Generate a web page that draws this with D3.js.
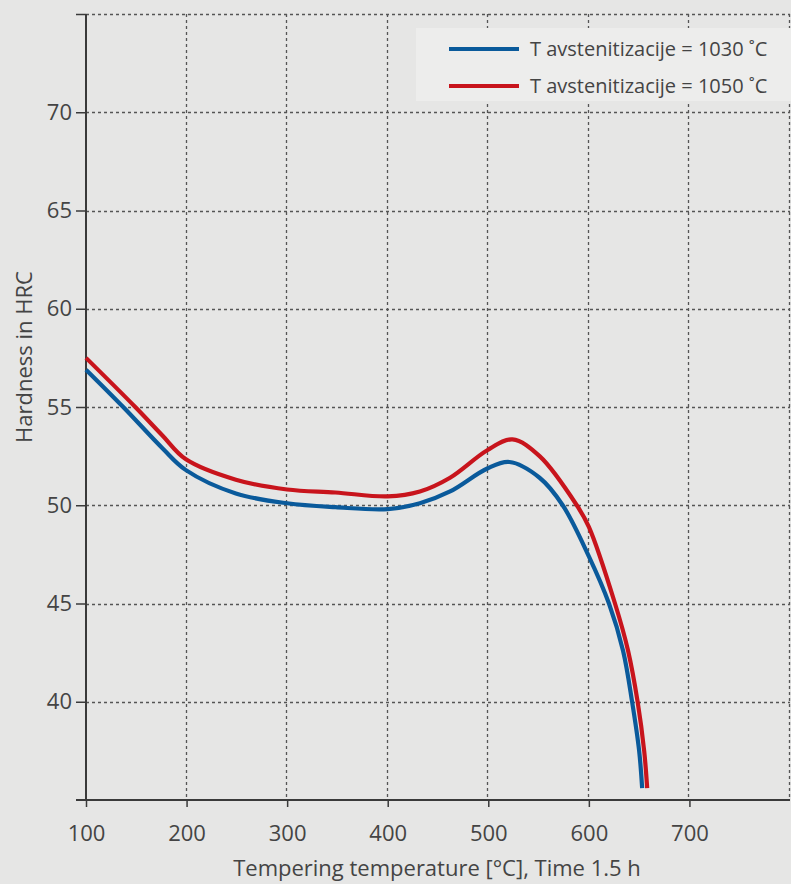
<!DOCTYPE html>
<html>
<head>
<meta charset="utf-8">
<script src="https://cdn.jsdelivr.net/npm/d3@7"></script>
<style>
html,body{margin:0;padding:0;background:#e6e6e5;}
svg{display:block;}
</style>
</head>
<body>
<script>
const xTicks = [100, 200, 300, 400, 500, 600, 700];
const yTicks = [40, 45, 50, 55, 60, 65, 70];
const seriesNames = ["T avstenitizacije = 1030 ˚C", "T avstenitizacije = 1050 ˚C"];
const seriesColors = ["#0a5a9b", "#c8141c"];
const tempBlue = [100, 137, 176, 199, 249, 300, 348, 400, 432, 462, 499, 521, 551, 574, 600, 620, 634, 643, 650, 653];
const hrcBlue  = [56.9, 55.0, 52.9, 51.8, 50.6, 50.1, 49.9, 49.8, 50.1, 50.7, 51.87, 52.2, 51.4, 50.0, 47.4, 45.0, 42.6, 40.0, 37.5, 35.6];
const tempRed  = [100, 149, 176, 199, 249, 300, 348, 400, 432, 462, 499, 524, 551, 588, 600, 626, 639, 648.5, 655, 658];
const hrcRed   = [57.5, 55.0, 53.55, 52.35, 51.3, 50.8, 50.65, 50.45, 50.7, 51.4, 52.8, 53.35, 52.5, 50.0, 48.9, 45.0, 42.6, 40.0, 37.5, 35.6];

const W = 791, H = 884;
const svg = d3.select("body").append("svg").attr("width", W).attr("height", H);
svg.append("rect").attr("width", W).attr("height", H).attr("fill", "#e6e6e5");

const x = d3.scaleLinear().domain([100, 800]).range([86, 790]);
const y = d3.scaleLinear().domain([35, 75]).range([800, 14]);
const font = "'Open Sans', sans-serif";

// grid
const grid = svg.append("g");
grid.selectAll("line.v").data(xTicks.slice(1).concat([800])).join("line")
  .attr("x1", d => Math.round(x(d)) - 0.5).attr("x2", d => Math.round(x(d)) - 0.5)
  .attr("y1", y(75)).attr("y2", y(35))
  .attr("stroke", "#555").attr("stroke-width", 1.3).attr("stroke-dasharray", "3,3");
grid.selectAll("line.h").data(yTicks.concat([75])).join("line")
  .attr("y1", d => Math.round(y(d)) + 0.5).attr("y2", d => Math.round(y(d)) + 0.5)
  .attr("x1", x(100)).attr("x2", x(800))
  .attr("stroke", "#555").attr("stroke-width", 1.3).attr("stroke-dasharray", "3,3");

// axes
const xAxis = svg.append("g").attr("transform", `translate(0,${y(35)})`)
  .call(d3.axisBottom(x).tickValues(xTicks).tickSize(7).tickPadding(18).tickFormat(d3.format("d")));
xAxis.select(".domain").remove();
svg.append("line").attr("x1", x(100) - 10).attr("x2", x(800)).attr("y1", y(35)).attr("y2", y(35))
  .attr("stroke", "#3a3a3a").attr("stroke-width", 2);
const yAxis = svg.append("g").attr("transform", `translate(${x(100)},0)`)
  .call(d3.axisLeft(y).tickValues(yTicks.concat([75])).tickSize(10).tickPadding(4)
    .tickFormat(d => d === 75 ? "" : d));
yAxis.select(".domain").remove();
svg.append("line").attr("x1", x(100)).attr("x2", x(100)).attr("y1", y(75)).attr("y2", y(35))
  .attr("stroke", "#3a3a3a").attr("stroke-width", 2);
[xAxis, yAxis].forEach(a => {
  a.selectAll(".tick line").attr("stroke", "#3a3a3a").attr("stroke-width", 1.5);
  a.selectAll(".tick text").attr("fill", "#444").style("font-family", font).style("font-size", "22px");
});

// titles
svg.append("text").attr("x", 437).attr("y", 876).attr("text-anchor", "middle")
  .style("font-family", font).style("font-size", "22px").attr("fill", "#444")
  .text("Tempering temperature [°C], Time 1.5 h");
svg.append("text").attr("transform", "translate(32,357) rotate(-90)").attr("text-anchor", "middle")
  .style("font-family", font).style("font-size", "22px").attr("fill", "#444")
  .text("Hardness in HRC");

// curves
const line = d3.line().x(d => x(d[0])).y(d => y(d[1])).curve(d3.curveCatmullRom.alpha(0.5));
const series = [d3.zip(tempBlue, hrcBlue), d3.zip(tempRed, hrcRed)];
series.forEach((s, i) => {
  svg.append("path").attr("d", line(s)).attr("fill", "none")
    .attr("stroke", seriesColors[i]).attr("stroke-width", 4.2).attr("stroke-linecap", "butt");
});

// legend
const lg = svg.append("g");
lg.append("rect").attr("x", 416).attr("y", 28).attr("width", 375).attr("height", 73).attr("fill", "#ededec");
seriesNames.forEach((n, i) => {
  const yy = 49 + i * 37;
  lg.append("line").attr("x1", 449).attr("x2", 519).attr("y1", yy).attr("y2", yy)
    .attr("stroke", seriesColors[i]).attr("stroke-width", 4);
  lg.append("text").attr("x", 530).attr("y", yy + 7)
    .style("font-family", font).style("font-size", "20px").attr("fill", "#444").text(n);
});
</script>
</body>
</html>
